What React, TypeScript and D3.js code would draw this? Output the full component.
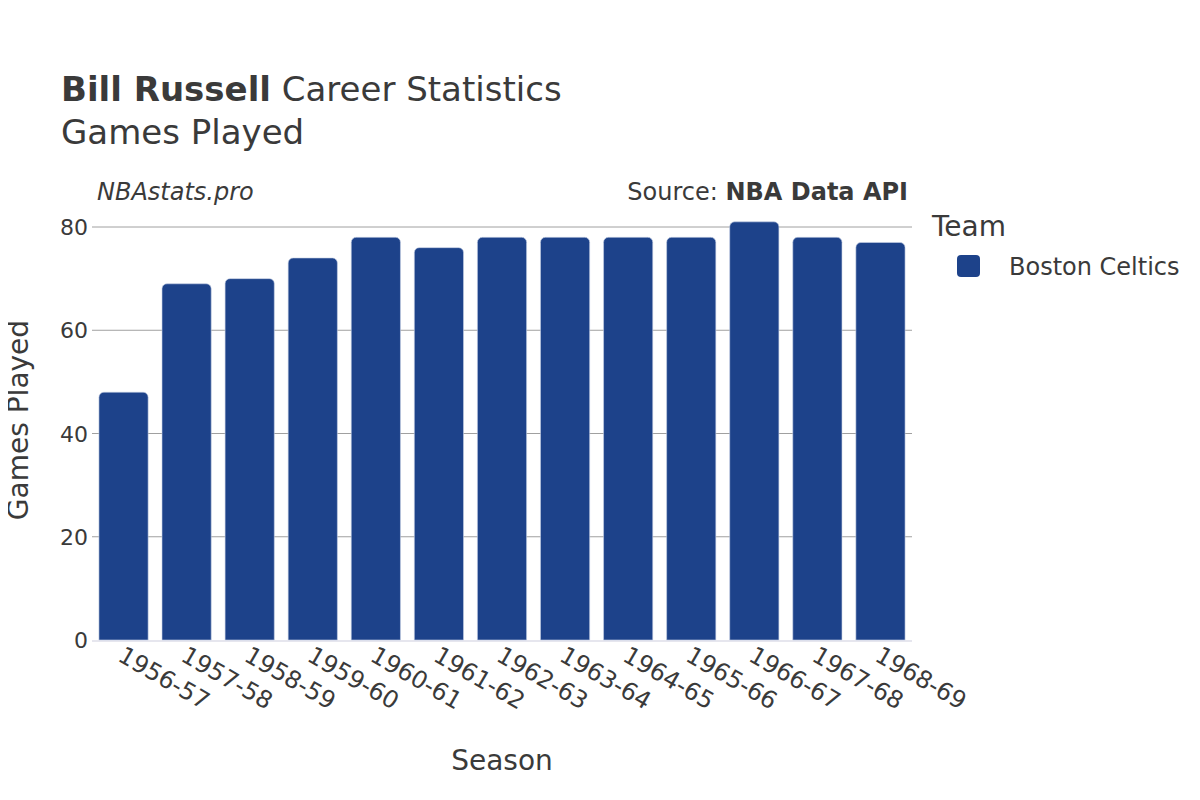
import React from "react";
import * as d3 from "d3";

const seasons = ["1956-57","1957-58","1958-59","1959-60","1960-61","1961-62","1962-63","1963-64","1964-65","1965-66","1966-67","1967-68","1968-69"];
const games = [48, 69, 70, 74, 78, 76, 78, 78, 78, 78, 81, 78, 77];
const yTicks = [0, 20, 40, 60, 80];
const teamName = "Boston Celtics";

const W = 1200, H = 800;
const left = 92, right = 912, top = 227, bottom = 640;
const font = "'DejaVu Sans', sans-serif";
const color = "#1d428a";
const textColor = "#3a3a3a";

export default function App() {
  const x = d3.scaleBand<string>().domain(seasons).range([left, right]).paddingInner(0.22).paddingOuter(0.11);
  const y = d3.scaleLinear().domain([0, 80]).range([bottom, top]);
  const r = 5;
  const barPath = (x0: number, w: number, y0: number, y1: number) => {
    const p = d3.path();
    p.moveTo(x0, y1);
    p.lineTo(x0, y0 + r);
    p.arcTo(x0, y0, x0 + r, y0, r);
    p.lineTo(x0 + w - r, y0);
    p.arcTo(x0 + w, y0, x0 + w, y0 + r, r);
    p.lineTo(x0 + w, y1);
    p.closePath();
    return p.toString();
  };
  return (
    <svg width={W} height={H} style={{ display: "block", margin: "-8px" }} fontFamily={font}>
      <rect width={W} height={H} fill="#fff" />
      <text x={61} y={101} fontSize={34} fill={textColor}>
        <tspan fontWeight="bold">Bill Russell</tspan> Career Statistics
      </text>
      <text x={61} y={144} fontSize={34} fill={textColor}>Games Played</text>
      <text x={97} y={200} fontSize={24} fontStyle="italic" fill={textColor}>NBAstats.pro</text>
      <text x={908} y={200} fontSize={24} textAnchor="end" fill={textColor}>
        Source: <tspan fontWeight="bold">NBA Data API</tspan>
      </text>
      {yTicks.filter(t => t > 0).map(t => (
        <line key={t} x1={left} x2={right} y1={y(t)} y2={y(t)} stroke="#a0a0a0" strokeWidth={1} />
      ))}
      <line x1={left} x2={right} y1={bottom + 1} y2={bottom + 1} stroke="#e6e6ee" strokeWidth={2} />
      {yTicks.map(t => (
        <text key={t} x={88} y={y(t) + 8} fontSize={22} textAnchor="end" fill={textColor}>{t}</text>
      ))}
      {seasons.map((s, i) => (
        <path key={s} d={barPath(x(s)!, x.bandwidth(), y(games[i]), y(0))} fill={color} stroke="#c8d2e6" strokeWidth={0.6} />
      ))}
      {seasons.map(s => {
        const cx = x(s)! + x.bandwidth() / 2;
        return (
          <text key={s} transform={`translate(${cx - 7},${660}) rotate(30)`} fontSize={24} fill={textColor}>{s}</text>
        );
      })}
      <text x={502} y={770} fontSize={28} textAnchor="middle" fill={textColor}>Season</text>
      <text transform={`translate(28,420) rotate(-90)`} fontSize={28} textAnchor="middle" fill={textColor}>Games Played</text>
      <text x={932} y={236} fontSize={28} fill={textColor}>Team</text>
      <rect x={957} y={255} width={23} height={22} rx={4} fill={color} />
      <text x={1009} y={275} fontSize={24} fill={textColor}>{teamName}</text>
    </svg>
  );
}
